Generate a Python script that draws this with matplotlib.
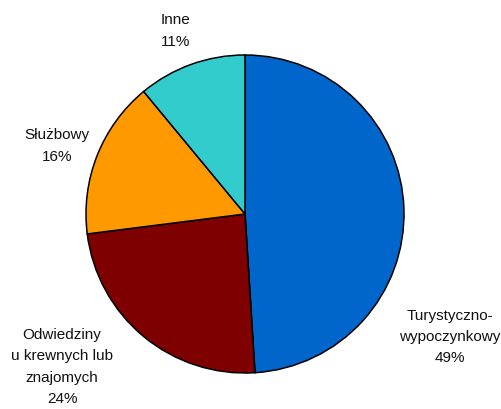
import matplotlib
matplotlib.use("Agg")
import matplotlib.pyplot as plt

# share of trips by purpose (%)
labels = ['Turystyczno-\nwypoczynkowy', 'Odwiedziny\nu krewnych lub\nznajomych', 'Służbowy', 'Inne']
values = [49, 24, 16, 11]
colors = ['#0066CC', '#7F0000', '#FF9900', '#33CCCC']

# label anchor points (pixels, origin top-left)
label_pos = [(450, 337), (62, 367), (57, 146), (176, 31)]

plt.rcParams['font.family'] = ['Liberation Sans', 'DejaVu Sans']

W, H = 502, 410
fig = plt.figure(figsize=(W / 100, H / 100), dpi=100)
ax = fig.add_axes([0, 0, 1, 1])

ax.pie(values, colors=colors, startangle=90, counterclock=False,
       center=(245, H - 215), radius=159, frame=True,
       wedgeprops=dict(edgecolor='black', linewidth=1.1))
ax.set_xlim(0, W)
ax.set_ylim(0, H)
ax.set_aspect('equal')
ax.axis('off')

for lab, v, (x, y) in zip(labels, values, label_pos):
    ax.text(x, H - y, f'{lab}\n{v}%', ha='center', va='center',
            fontsize=11, linespacing=1.68, color='#111111')

fig.savefig('out.png', dpi=100)
